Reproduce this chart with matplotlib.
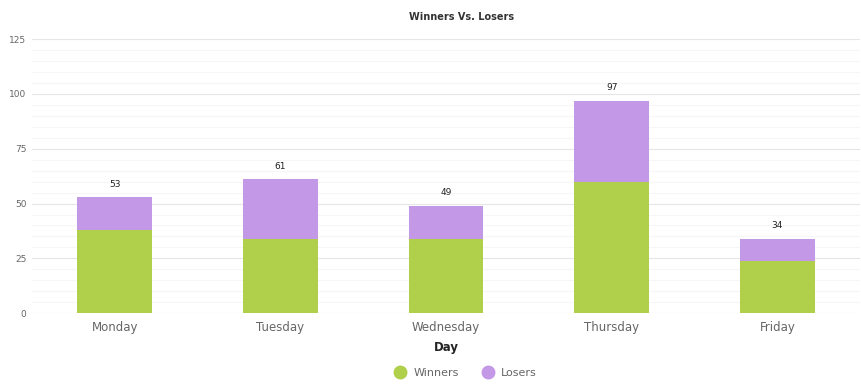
import matplotlib
matplotlib.use("Agg")
import matplotlib.pyplot as plt
from matplotlib.lines import Line2D
import numpy as np

days = ["Monday", "Tuesday", "Wednesday", "Thursday", "Friday"]
winners = [38, 34, 34, 60, 24]
losers = [15, 27, 15, 37, 10]
totals = [53, 61, 49, 97, 34]
yticks = [0, 25, 50, 75, 100, 125]

green = "#b0d04c"
purple = "#c398e6"

fig = plt.figure(figsize=(8.62, 3.88), dpi=100)
ax = fig.add_axes([0.037, 0.193, 0.961, 0.706])

x = np.arange(len(days))
ax.bar(x, winners, width=0.45, color=green, zorder=3)
ax.bar(x, losers, width=0.45, bottom=winners, color=purple, zorder=3)
for xi, t in zip(x, totals):
    ax.annotate(str(t), (xi, t), xytext=(0, 6), textcoords="offset points",
                ha="center", va="bottom", fontsize=6.5, color="#222222")

ax.set_xlim(-0.5, len(days) - 0.5)
ax.set_ylim(0, 125)
ax.set_yticks(yticks)
ax.set_yticks(np.arange(0, 126, 5), minor=True)
ax.grid(axis="y", which="major", color="#e6e6e6", linewidth=0.8, zorder=0)
ax.grid(axis="y", which="minor", color="#f6f6f6", linewidth=0.8, zorder=0)
ax.set_xticks(x)
ax.set_xticklabels(days, fontsize=8.5, color="#666666")
ax.tick_params(axis="y", which="both", length=0, labelsize=6.5, labelcolor="#666666", pad=4)
ax.tick_params(axis="x", length=0, pad=6)
for s in ax.spines.values():
    s.set_visible(False)

ax.set_xlabel("Day", fontsize=8.5, fontweight="bold", color="#222222", labelpad=5)
fig.text(0.5355, 0.955, "Winners Vs. Losers", ha="center", va="center",
         fontsize=7, fontweight="bold", color="#333333")

handles = [Line2D([0], [0], marker="o", linestyle="none", markersize=9,
                  markerfacecolor=green, markeredgecolor=green, label="Winners"),
           Line2D([0], [0], marker="o", linestyle="none", markersize=9,
                  markerfacecolor=purple, markeredgecolor=purple, label="Losers")]
leg = fig.legend(handles=handles, loc="center", bbox_to_anchor=(0.537, 0.038), ncol=2,
                 frameon=False, fontsize=8, handletextpad=0.2, columnspacing=1.6)
for t in leg.get_texts():
    t.set_color("#666666")

fig.savefig("out.png", dpi=100)
